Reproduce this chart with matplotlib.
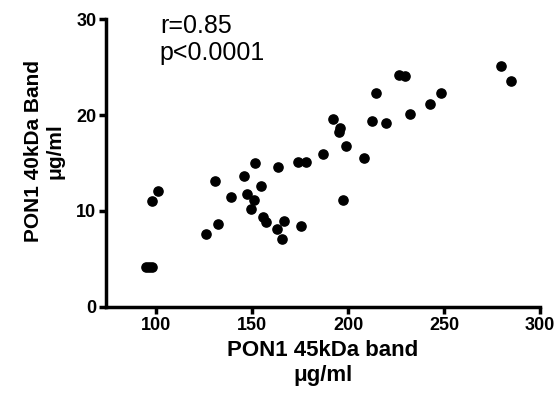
import matplotlib
matplotlib.use('Agg')
import matplotlib.pyplot as plt

plt.rcParams['font.family'] = ['Liberation Sans', 'DejaVu Sans']

# PON1 45kDa band (x) vs PON1 40kDa band (y), ug/ml
pon45 = [279.6, 284.8, 226.4, 229.9, 214.8, 248.6, 242.5, 232.5, 192.1, 212.6,
         219.8, 195.7, 195.2, 199.1, 186.8, 208.2, 173.9, 177.9, 151.6, 163.5,
         130.8, 145.6, 154.9, 100.9, 97.9, 139.0, 147.3, 151.1, 149.7, 197.3,
         155.9, 157.5, 166.6, 163.2, 165.8, 175.7, 132.2, 126.2, 94.8, 96.3, 97.9]
pon40 = [25.1, 23.6, 24.2, 24.1, 22.3, 22.3, 21.2, 20.1, 19.6, 19.4,
         19.2, 18.6, 18.2, 16.8, 15.9, 15.5, 15.1, 15.1, 15.0, 14.6,
         13.1, 13.6, 12.6, 12.1, 11.0, 11.5, 11.75, 11.1, 10.2, 11.1,
         9.4, 8.8, 8.9, 8.1, 7.1, 8.4, 8.6, 7.6, 4.2, 4.2, 4.2]

xticks = [100, 150, 200, 250, 300]
yticks = [0, 10, 20, 30]

fig = plt.figure(figsize=(5.58, 4.08), dpi=100)
ax = fig.add_axes([0.19, 0.248, 0.778, 0.705])

ax.scatter(pon45, pon40, s=44, color='black', zorder=3)

ax.set_xlim(74, 300)
ax.set_ylim(0, 30)
ax.set_xticks(xticks)
ax.set_yticks(yticks)

for s in ['top', 'right']:
    ax.spines[s].set_visible(False)
for s in ['left', 'bottom']:
    ax.spines[s].set_linewidth(2.5)
ax.tick_params(width=2.5, length=5, pad=2, labelsize=13)
for lab in ax.get_xticklabels() + ax.get_yticklabels():
    lab.set_fontweight('bold')

ax.set_xlabel('PON1 45kDa band\n\u03bcg/ml', fontsize=16, fontweight='bold', labelpad=5)
ax.set_ylabel('PON1 40kDa Band\n\u03bcg/ml', fontsize=15, fontweight='bold')
ax.yaxis.set_label_coords(-0.095, 0.54)

ax.text(102, 30.5, 'r=0.85\np<0.0001', fontsize=18, va='top', ha='left', linespacing=1.15)

fig.savefig('out.png', dpi=100)
